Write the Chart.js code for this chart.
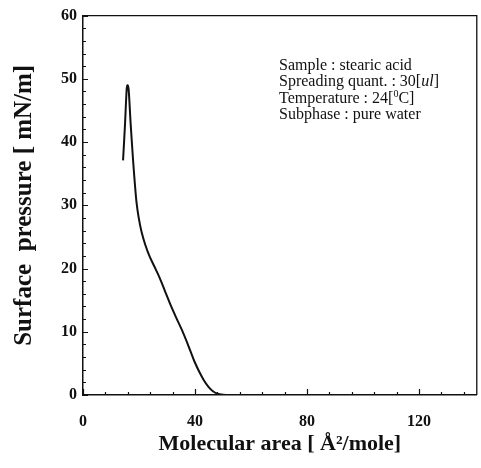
<!DOCTYPE html>
<html>
<head>
<meta charset="utf-8">
<script src="https://cdn.jsdelivr.net/npm/chart.js@4.4.1/dist/chart.umd.min.js"></script>
<style>
  html, body { margin: 0; padding: 0; background: #ffffff; }
  #wrap { width: 481px; height: 468px; }
</style>
</head>
<body>
<div id="wrap"><canvas id="chart" width="481" height="468"></canvas></div>
<script>
// Pressure–area isotherm of a stearic acid monolayer
const moleculeArea = [14.3, 15.0, 15.6, 15.9, 16.3, 17.0, 17.9, 18.5, 19.1, 19.9, 20.9, 22.2, 23.7, 25.4, 27.3, 29.3, 31.3, 33.3, 35.3, 36.9, 38.4, 40.0, 41.6, 43.2, 44.8, 46.4, 48.0, 50.0, 53.0, 56.0];
const surfacePressure = [37.1, 42.8, 48.4, 49.0, 48.3, 43.0, 37.0, 33.5, 30.5, 28.0, 25.8, 23.8, 22.0, 20.4, 18.6, 16.4, 14.2, 12.2, 10.3, 8.6, 6.9, 5.1, 3.6, 2.3, 1.3, 0.6, 0.2, 0.05, 0.0, 0.0];

// Axis ticks: every value gets a tick mark, only the majors get a label
const xTickValues = [0, 8, 16, 24, 32, 40, 48, 56, 64, 72, 80, 88, 96, 104, 112, 120, 128, 136];
const xTickLabels = [0, 40, 80, 120];
const yTickValues = [0, 2, 4, 6, 8, 10, 12, 14, 16, 18, 20, 22, 24, 26, 28, 30, 32, 34, 36, 38, 40, 42, 44, 46, 48, 50, 52, 54, 56, 58, 60];
const yTickLabels = [0, 10, 20, 30, 40, 50, 60];

const infoLines = [
  [{ t: 'Sample : stearic acid' }],
  [{ t: 'Spreading quant. : 30[' }, { t: 'ul', italic: true }, { t: ']' }],
  [{ t: 'Temperature : 24[' }, { t: '0', sup: true }, { t: 'C]' }],
  [{ t: 'Subphase : pure water' }]
];

const SERIF = '"Liberation Serif", "Times New Roman", serif';
const INK = '#111111';

// Inward tick marks plus the top and right frame lines
const frameTicks = {
  id: 'frameTicks',
  afterDraw(chart) {
    const { ctx, chartArea: a, scales: { x, y } } = chart;
    ctx.save();
    ctx.strokeStyle = INK;
    ctx.lineWidth = 1.3;
    ctx.beginPath();
    ctx.moveTo(a.left, a.top);
    ctx.lineTo(a.right, a.top);
    ctx.lineTo(a.right, a.bottom);
    ctx.stroke();
    ctx.lineWidth = 1.2;
    ctx.beginPath();
    xTickValues.forEach(v => {
      const px = Math.round(x.getPixelForValue(v)) + 0.5;
      const len = xTickLabels.includes(v) ? 6 : 3;
      ctx.moveTo(px, a.bottom);
      ctx.lineTo(px, a.bottom - len);
    });
    yTickValues.forEach(v => {
      const py = Math.round(y.getPixelForValue(v)) + 0.5;
      const len = yTickLabels.includes(v) ? 5 : 3;
      ctx.moveTo(a.left, py);
      ctx.lineTo(a.left + len, py);
    });
    ctx.stroke();
    ctx.restore();
  }
};

// Sample description block in the upper right of the plot
const infoBlock = {
  id: 'infoBlock',
  afterDraw(chart) {
    const { ctx, chartArea: a } = chart;
    const size = 16;
    const left = a.left + 196;
    const top = a.top + 50;
    const step = 16.5;
    ctx.save();
    ctx.fillStyle = INK;
    ctx.textBaseline = 'middle';
    infoLines.forEach((parts, i) => {
      let cx = left;
      const cy = top + i * step;
      parts.forEach(p => {
        if (p.sup) {
          ctx.font = `${Math.round(size * 0.62)}px ${SERIF}`;
          ctx.fillText(p.t, cx, cy - 4);
        } else {
          ctx.font = `${p.italic ? 'italic ' : ''}${size}px ${SERIF}`;
          ctx.fillText(p.t, cx, cy);
        }
        cx += ctx.measureText(p.t).width;
      });
    });
    ctx.restore();
  }
};

new Chart(document.getElementById('chart'), {
  type: 'line',
  data: {
    datasets: [{
      data: moleculeArea.map((a, i) => ({ x: a, y: surfacePressure[i] })),
      borderColor: INK,
      borderWidth: 2,
      pointRadius: 0,
      tension: 0.3,
      fill: false
    }]
  },
  options: {
    responsive: false,
    animation: false,
    layout: { padding: { left: 0, right: 3, top: 12, bottom: 0 } },
    plugins: { legend: { display: false }, tooltip: { enabled: false } },
    scales: {
      x: {
        type: 'linear',
        min: 0,
        max: 140.6,
        afterBuildTicks: s => { s.ticks = xTickValues.map(v => ({ value: v })); },
        afterFit: s => { s.height = 73; },
        grid: { display: false, drawTicks: false },
        border: { display: true, color: INK, width: 1.5 },
        ticks: {
          autoSkip: false,
          maxRotation: 0,
          padding: 17,
          color: INK,
          font: { family: SERIF, size: 16, weight: 'bold' },
          callback: v => (xTickLabels.includes(v) ? String(v) : '')
        },
        title: {
          display: true,
          text: 'Molecular area [ Å²/mole]',
          color: INK,
          font: { family: SERIF, size: 22, weight: 'bold' },
          padding: { top: 0, bottom: 10 }
        }
      },
      y: {
        type: 'linear',
        min: 0,
        max: 60,
        afterBuildTicks: s => { s.ticks = yTickValues.map(v => ({ value: v })); },
        afterFit: s => { s.width = 83; },
        grid: { display: false, drawTicks: false },
        border: { display: true, color: INK, width: 1.5 },
        ticks: {
          autoSkip: false,
          padding: 6,
          color: INK,
          font: { family: SERIF, size: 16, weight: 'bold' },
          callback: v => (yTickLabels.includes(v) ? String(v) : '')
        },
        title: {
          display: true,
          text: 'Surface  pressure [ mN/m]',
          color: INK,
          font: { family: SERIF, size: 25, weight: 'bold' },
          padding: { top: 10, bottom: 0 }
        }
      }
    }
  },
  plugins: [frameTicks, infoBlock]
});
</script>
</body>
</html>
